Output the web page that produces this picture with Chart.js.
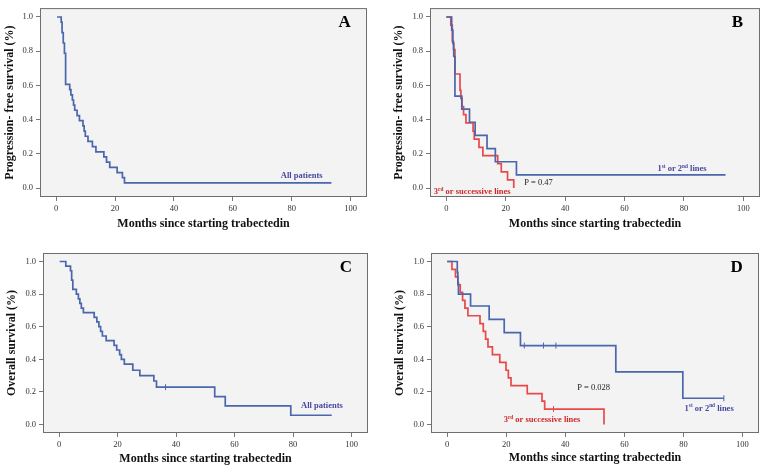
<!DOCTYPE html>
<html>
<head>
<meta charset="utf-8">
<script src="https://cdn.jsdelivr.net/npm/chart.js@4.4.1/dist/chart.umd.min.js"></script>
<style>
  body { margin: 0; background: #fff; }
  #wrap { position: relative; width: 764px; height: 469px; }
  canvas { position: absolute; }
</style>
</head>
<body>
<div id="wrap">
  <canvas id="chartA" width="382" height="235" style="left:0;top:0"></canvas>
  <canvas id="chartB" width="382" height="235" style="left:382px;top:0"></canvas>
  <canvas id="chartC" width="382" height="234" style="left:0;top:235px"></canvas>
  <canvas id="chartD" width="382" height="234" style="left:382px;top:235px"></canvas>
</div>
<script>
// axis ticks
const monthTicks = [0, 20, 40, 60, 80, 100];
const survivalTicks = [0, 0.2, 0.4, 0.6, 0.8, 1.0];

// A - progression-free survival, all patients
const pfsAllMonths = [0.3, 1.7, 2.0, 2.4, 2.8, 3.2, 4.6, 5.0, 5.5, 5.9, 6.3, 7.1, 7.9, 9.1, 9.5, 9.9, 10.8, 12.3, 13.5, 16.2, 17.1, 18.2, 20.7, 22.5, 23.2, 93.5];
const pfsAllSurv = [1.0, 0.970, 0.909, 0.848, 0.788, 0.606, 0.576, 0.545, 0.515, 0.485, 0.455, 0.424, 0.394, 0.364, 0.333, 0.303, 0.273, 0.242, 0.212, 0.182, 0.152, 0.121, 0.091, 0.061, 0.030, 0.030];

// B - progression-free survival by line of treatment
const pfsEarlyMonths = [0, 1.8, 2.2, 2.5, 2.9, 5.2, 7.8, 9.7, 13.7, 16.5, 23.6, 94.0];
const pfsEarlySurv = [1.0, 0.923, 0.846, 0.769, 0.538, 0.462, 0.385, 0.308, 0.231, 0.154, 0.077, 0.077];
const pfsLateMonths = [0, 1.5, 2.0, 2.4, 2.9, 4.6, 4.9, 5.3, 5.8, 6.6, 9.0, 9.4, 11.0, 12.3, 17.3, 18.5, 20.6, 22.7];
const pfsLateSurv = [1.0, 0.952, 0.857, 0.810, 0.667, 0.571, 0.524, 0.476, 0.429, 0.381, 0.333, 0.286, 0.238, 0.190, 0.143, 0.095, 0.048, 0];

// C - overall survival, all patients
const osAllMonths = [0.2, 2.3, 3.9, 4.3, 4.7, 5.9, 6.6, 7.1, 7.6, 8.3, 12.0, 12.9, 13.6, 14.2, 14.8, 16.1, 18.8, 19.7, 20.7, 21.3, 22.3, 25.2, 27.6, 32.4, 33.3, 53.2, 56.8, 79.2, 93.2];
const osAllSurv = [1.0, 0.971, 0.943, 0.886, 0.829, 0.800, 0.771, 0.743, 0.714, 0.686, 0.657, 0.629, 0.600, 0.571, 0.543, 0.514, 0.486, 0.457, 0.429, 0.400, 0.371, 0.333, 0.300, 0.267, 0.229, 0.171, 0.114, 0.057, 0.057];
const osAllCensor = [36.4];

// D - overall survival by line of treatment
const osEarlyMonths = [0, 3.4, 3.6, 3.8, 7.9, 14.2, 19.3, 24.8, 57.1, 79.8, 93.7];
const osEarlySurv = [1.0, 0.933, 0.867, 0.800, 0.727, 0.645, 0.564, 0.484, 0.323, 0.161, 0.161];
const osEarlyCensor = [26.1, 32.6, 36.8, 93.7];
const osLateMonths = [0, 1.6, 2.8, 3.6, 4.4, 5.2, 6.0, 7.0, 11.1, 12.2, 13.0, 13.8, 15.3, 17.8, 19.9, 20.7, 21.6, 27.1, 32.1, 33.0, 53.1];
const osLateSurv = [1.0, 0.952, 0.905, 0.857, 0.810, 0.762, 0.714, 0.667, 0.619, 0.571, 0.524, 0.476, 0.429, 0.381, 0.333, 0.286, 0.238, 0.190, 0.143, 0.095, 0];
const osLateCensor = [36.0];

const BLUE = '#4a66ad';
const RED = '#e8494a';
const BLUE_TXT = '#4747a3';
const RED_TXT = '#d0282a';
const FONT = '"Liberation Serif", "Times New Roman", serif';

Chart.defaults.font.family = FONT;

function kmLine(months, surv, color) {
    return {
        data: months.map((m, i) => ({x: m, y: surv[i]})),
        borderColor: color,
        borderWidth: 1.7,
        stepped: true,
        pointRadius: 0,
        fill: false
    };
}

// censor ticks sit on the step curve at the censoring month
function censorMarks(months, surv, censor, color) {
    return {
        type: 'scatter',
        data: censor.map(c => {
            let y = surv[0];
            months.forEach((m, i) => { if (m <= c) y = surv[i]; });
            return {x: c, y: y};
        }),
        pointStyle: 'line',
        rotation: 90,
        pointRadius: 3,
        borderColor: color,
        borderWidth: 1,
        showLine: false
    };
}

function drawRich(ctx, x, y, parts, size, color, bold) {
    ctx.fillStyle = color;
    ctx.textAlign = 'left';
    ctx.textBaseline = 'alphabetic';
    let cx = x;
    const base = y + size * 0.33;
    parts.forEach(p => {
        const s = p.sup ? size * 0.62 : size;
        ctx.font = (bold ? 'bold ' : '') + s + 'px ' + FONT;
        ctx.fillText(p.t, cx, p.sup ? base - size * 0.38 : base);
        cx += ctx.measureText(p.t).width;
    });
}

const panelDecor = {
    id: 'panelDecor',
    beforeDraw(chart) {
        const {ctx, chartArea: a} = chart;
        ctx.save();
        ctx.fillStyle = '#f3f3f3';
        ctx.fillRect(a.left, a.top, a.right - a.left, a.bottom - a.top);
        ctx.restore();
    },
    afterDraw(chart, args, opts) {
        const {ctx, chartArea: a, scales: {x, y}} = chart;
        ctx.save();
        ctx.strokeStyle = '#6e6e6e';
        ctx.lineWidth = 1;
        ctx.strokeRect(a.left + 0.5, a.top + 0.5, a.right - a.left - 1, a.bottom - a.top - 1);
        ctx.font = 'bold 17px ' + FONT;
        ctx.fillStyle = '#000';
        ctx.textAlign = 'center';
        ctx.textBaseline = 'middle';
        ctx.fillText(opts.letter, x.getPixelForValue(98), y.getPixelForValue(0.965));
        (opts.labels || []).forEach(l => {
            drawRich(ctx, x.getPixelForValue(l.x), y.getPixelForValue(l.y), l.parts, l.size, l.color, l.bold);
        });
        ctx.restore();
    }
};

function makePanel(id, yTitle, datasets, box, letter, labels) {
    new Chart(document.getElementById(id), {
        type: 'line',
        data: {datasets: datasets},
        options: {
            responsive: false,
            animation: false,
            devicePixelRatio: 1,
            layout: {padding: box.pad},
            plugins: {
                legend: {display: false},
                tooltip: {enabled: false},
                panelDecor: {letter: letter, labels: labels}
            },
            scales: {
                x: {
                    type: 'linear',
                    min: -5.5,
                    max: 105.6,
                    afterFit: s => { s.height = box.xh; },
                    afterBuildTicks: s => { s.ticks = monthTicks.map(v => ({value: v})); },
                    ticks: {font: {size: 8.5}, color: '#333', padding: 3, maxRotation: 0},
                    grid: {drawOnChartArea: false, tickLength: 4, color: '#777'},
                    border: {display: false},
                    title: {display: true, text: 'Months since starting trabectedin', color: '#111',
                        font: {size: 12, weight: 'bold'}, padding: {top: 0, bottom: 3}}
                },
                y: {
                    type: 'linear',
                    min: -0.052,
                    max: 1.052,
                    afterFit: s => { s.width = box.yw; },
                    afterBuildTicks: s => { s.ticks = survivalTicks.map(v => ({value: v})); },
                    ticks: {font: {size: 8.5}, color: '#333', padding: 3, callback: v => v.toFixed(1)},
                    grid: {drawOnChartArea: false, tickLength: 4, color: '#777'},
                    border: {display: false},
                    title: {display: true, text: yTitle, color: '#111',
                        font: {size: 12, weight: 'bold'}, padding: {top: 3, bottom: 0}}
                }
            }
        },
        plugins: [panelDecor]
    });
}

const firstLines = [{t: '1'}, {t: 'st', sup: true}, {t: ' or 2'}, {t: 'nd', sup: true}, {t: ' lines'}];
const laterLines = [{t: '3'}, {t: 'rd', sup: true}, {t: ' or successive lines'}];

makePanel('chartA', 'Progression- free survival (%)',
    [kmLine(pfsAllMonths, pfsAllSurv, BLUE)],
    {pad: {left: 0, right: 15, top: 2, bottom: 1}, yw: 40, xh: 37}, 'A',
    [{x: 76.3, y: 0.073, parts: [{t: 'All patients'}], size: 8.5, color: BLUE_TXT, bold: true}]);

makePanel('chartB', 'Progression- free survival (%)',
    [kmLine(pfsEarlyMonths, pfsEarlySurv, BLUE), kmLine(pfsLateMonths, pfsLateSurv, RED)],
    {pad: {left: 7, right: 4, top: 1, bottom: 1}, yw: 41, xh: 37}, 'B',
    [{x: 71.1, y: 0.116, parts: firstLines, size: 8.5, color: BLUE_TXT, bold: true},
     {x: -4.2, y: -0.019, parts: laterLines, size: 8.5, color: RED_TXT, bold: true},
     {x: 26.2, y: 0.032, parts: [{t: 'P = 0.47'}], size: 8.5, color: '#222', bold: false}]);

makePanel('chartC', 'Overall survival (%)',
    [kmLine(osAllMonths, osAllSurv, BLUE), censorMarks(osAllMonths, osAllSurv, osAllCensor, BLUE)],
    {pad: {left: 2, right: 14, top: 18, bottom: 0}, yw: 41, xh: 36}, 'C',
    [{x: 82.7, y: 0.117, parts: [{t: 'All patients'}], size: 8.5, color: BLUE_TXT, bold: true}]);

makePanel('chartD', 'Overall survival (%)',
    [kmLine(osEarlyMonths, osEarlySurv, BLUE), kmLine(osLateMonths, osLateSurv, RED),
     censorMarks(osEarlyMonths, osEarlySurv, osEarlyCensor, BLUE),
     censorMarks(osLateMonths, osLateSurv, osLateCensor, RED)],
    {pad: {left: 8, right: 4, top: 18, bottom: 1}, yw: 41, xh: 35}, 'D',
    [{x: 80.4, y: 0.102, parts: firstLines, size: 8.5, color: BLUE_TXT, bold: true},
     {x: 19.1, y: 0.033, parts: laterLines, size: 8.5, color: RED_TXT, bold: true},
     {x: 44.0, y: 0.226, parts: [{t: 'P = 0.028'}], size: 8.5, color: '#222', bold: false}]);
</script>
</body>
</html>
